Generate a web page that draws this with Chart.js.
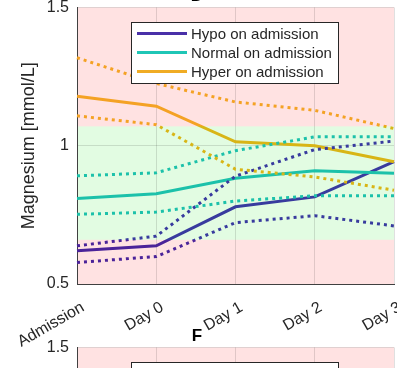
<!DOCTYPE html>
<html>
<head>
<meta charset="utf-8">
<script src="https://cdn.jsdelivr.net/npm/chart.js@4.4.1/dist/chart.umd.min.js"></script>
<style>
  html, body { margin: 0; padding: 0; background: #fff; }
  body { position: relative; width: 397px; height: 368px; overflow: hidden; }
  canvas { position: absolute; left: 0; }
  #panelD { top: -30px; }
  #panelF { top: 310px; }
</style>
</head>
<body>
<canvas id="panelD" width="397" height="380"></canvas>
<canvas id="panelF" width="397" height="380"></canvas>
<script>
// time points and axis ticks
const days = ['Admission', 'Day 0', 'Day 1', 'Day 2', 'Day 3'];
const yTicks = [0.5, 1, 1.5];
const normalRange = [0.66, 1.07];   // reference interval, mmol/L
const seriesNames = ['Hypo on admission', 'Normal on admission', 'Hyper on admission'];

// mean and 95% CI per admission group
const hypoMean   = [0.620, 0.638, 0.779, 0.815, 0.942];
const hypoUpper  = [0.638, 0.673, 0.890, 0.986, 1.017];
const hypoLower  = [0.578, 0.599, 0.722, 0.747, 0.710];

const normalMean  = [0.809, 0.826, 0.882, 0.909, 0.900];
const normalUpper = [0.891, 0.902, 0.982, 1.032, 1.032];
const normalLower = [0.752, 0.760, 0.800, 0.819, 0.819];

const hyperMean  = [1.179, 1.143, 1.014, 1.000, 0.942];
const hyperUpper = [1.318, 1.225, 1.158, 1.128, 1.062];
const hyperLower = [1.108, 1.076, 0.915, 0.887, 0.839];

const FONT = "'Liberation Sans', Arial, Helvetica, sans-serif";
const TEXT = '#262626';
const PINK = '#ffe2e2';
const GREEN = '#e2fce2';
const legendColors = ['#4930a8', '#1fc6b6', '#f0ac24'];

// line colour switches where it crosses the reference band edge
function splitColor(limit, above, below) {
  return (c) => {
    const chart = c.chart;
    const a = chart.chartArea;
    if (!a) return above;
    const yPix = chart.scales.y.getPixelForValue(limit);
    const f = Math.min(1, Math.max(0, (yPix - a.top) / a.height));
    const g = chart.ctx.createLinearGradient(0, a.top, 0, a.bottom);
    g.addColorStop(0, above);
    g.addColorStop(f, above);
    g.addColorStop(f, below);
    g.addColorStop(1, below);
    return g;
  };
}

const hypoColor = splitColor(normalRange[0], '#383b9e', '#4b2399');
const normalColor = '#1cc1aa';
const hyperColor = splitColor(normalRange[1], '#f4a224', '#d8b516');

function line(label, data, color, dotted) {
  return {
    label, data,
    borderColor: color,
    borderWidth: 3,
    borderDash: dotted ? [3, 4] : [],
    pointRadius: 0,
    tension: 0,
    fill: false
  };
}

const bandPlugin = {
  id: 'bands',
  beforeDraw(chart) {
    const { ctx, chartArea: a, scales: { y } } = chart;
    const lo = y.getPixelForValue(normalRange[0]);
    const hi = y.getPixelForValue(normalRange[1]);
    ctx.save();
    ctx.fillStyle = PINK;
    ctx.fillRect(a.left, a.top, a.width, a.height);
    ctx.fillStyle = GREEN;
    ctx.fillRect(a.left, hi, a.width, lo - hi);
    ctx.restore();
  }
};

const boxLegend = {
  id: 'boxLegend',
  afterDatasetsDraw(chart) {
    const { ctx, chartArea: a } = chart;
    const x = Math.round(a.left + 54), y = Math.round(a.top + 15);
    ctx.save();
    ctx.fillStyle = '#fff';
    ctx.fillRect(x, y, 207, 61);
    ctx.strokeStyle = '#262626';
    ctx.lineWidth = 1;
    ctx.strokeRect(x + 0.5, y + 0.5, 207, 61);
    ctx.font = '15px ' + FONT;
    ctx.textBaseline = 'middle';
    seriesNames.forEach((name, i) => {
      const cy = y + 11.5 + i * 19;
      ctx.strokeStyle = legendColors[i];
      ctx.lineWidth = 3;
      ctx.beginPath();
      ctx.moveTo(x + 6, cy);
      ctx.lineTo(x + 56, cy);
      ctx.stroke();
      ctx.fillStyle = TEXT;
      ctx.fillText(name, x + 60, cy + 1);
    });
    ctx.restore();
  }
};

function panel(id, letter, datasets) {
  return new Chart(document.getElementById(id), {
    type: 'line',
    data: { labels: days, datasets },
    plugins: [bandPlugin, boxLegend],
    options: {
      responsive: false,
      animation: false,
      devicePixelRatio: 1,
      layout: { padding: { top: 16, left: 0, right: 3, bottom: 0 } },
      plugins: {
        legend: { display: false },
        tooltip: { enabled: false },
        title: {
          display: true, text: letter, color: '#000',
          font: { family: FONT, size: 17, weight: 'bold' },
          padding: { top: 0, bottom: 1 }
        }
      },
      scales: {
        x: {
          offset: false,
          grid: { color: 'rgba(0,0,0,0.12)', drawTicks: false },
          border: { color: '#404040', width: 1 },
          ticks: {
            color: TEXT, font: { family: FONT, size: 16 },
            minRotation: 30, maxRotation: 30, autoSkip: false,
            padding: 14, labelOffset: 6
          },
          afterFit(s) { s.height = 66; s.paddingLeft = 0; s.paddingRight = 0; }
        },
        y: {
          min: yTicks[0], max: yTicks[yTicks.length - 1],
          afterBuildTicks(s) { s.ticks = yTicks.map(v => ({ value: v })); },
          grid: { color: 'rgba(0,0,0,0.12)', drawTicks: false },
          border: { color: '#404040', width: 1 },
          ticks: { color: TEXT, font: { family: FONT, size: 16 }, padding: 8, callback: v => String(v) },
          title: {
            display: true, text: 'Magnesium [mmol/L]', color: TEXT,
            font: { family: FONT, size: 18 }, padding: { top: 18, bottom: 0 }
          },
          afterFit(s) { s.width = 77; }
        }
      }
    }
  });
}

panel('panelD', 'D', [
  line(seriesNames[2] + ' upper', hyperUpper, hyperColor, true),
  line(seriesNames[2] + ' lower', hyperLower, hyperColor, true),
  line(seriesNames[1] + ' upper', normalUpper, normalColor, true),
  line(seriesNames[1] + ' lower', normalLower, normalColor, true),
  line(seriesNames[0] + ' upper', hypoUpper, hypoColor, true),
  line(seriesNames[0] + ' lower', hypoLower, hypoColor, true),
  line(seriesNames[2], hyperMean, hyperColor, false),
  line(seriesNames[1], normalMean, normalColor, false),
  line(seriesNames[0], hypoMean, hypoColor, false)
]);

// next panel starts at the bottom of the figure
panel('panelF', 'F', []);
</script>
</body>
</html>
